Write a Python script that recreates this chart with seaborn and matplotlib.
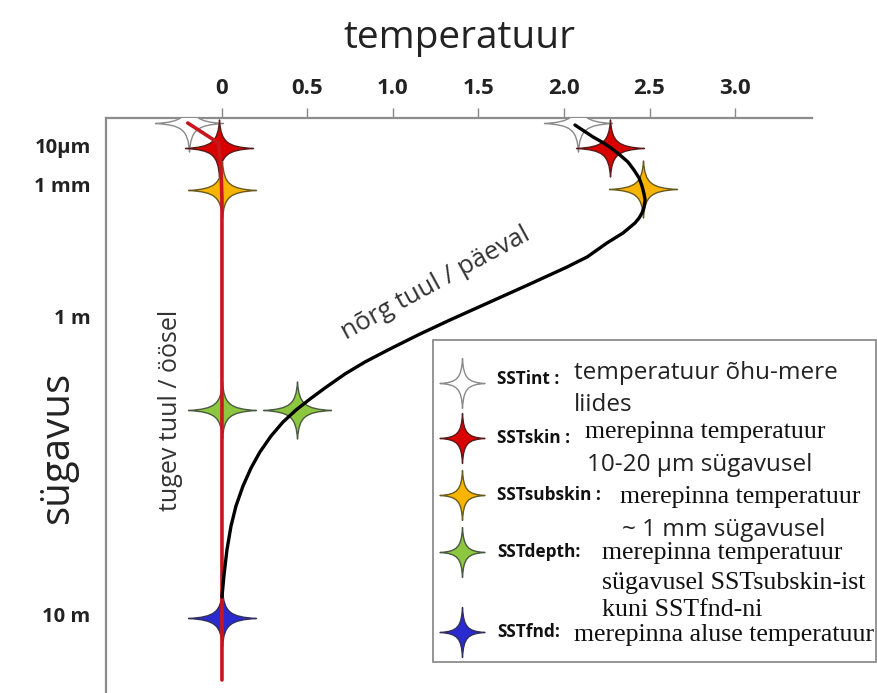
import numpy as np
import pandas as pd
import matplotlib
matplotlib.use("Agg")
import matplotlib.pyplot as plt
from matplotlib.path import Path
from matplotlib.lines import Line2D
from matplotlib.patches import Rectangle
import seaborn as sns

# ---------------- data ----------------
star_types = ["SSTint", "SSTskin", "SSTsubskin", "SSTdepth", "SSTfnd"]
star_colors = ["#ffffff", "#d90000", "#f7b500", "#8dc63f", "#2a2ad0"]
star_edges = ["#8a8a8a", "#5a1a1a", "#6a5a20", "#4a5a40", "#30305a"]

# schematic depth coordinate (0 = surface)
depth_tick_pos = [0.27, 0.66, 1.99, 4.96]
depth_tick_labels = ["10\u00b5m", "1 mm", "1 m", "10 m"]
temp_ticks = [0, 0.5, 1.0, 1.5, 2.0, 2.5, 3.0]
temp_tick_labels = ["0", "0.5", "1.0", "1.5", "2.0", "2.5", "3.0"]

# night (strong wind) stars
night_types = ["SSTint", "SSTskin", "SSTsubskin", "SSTdepth", "SSTfnd"]
night_temp = [-0.19, -0.02, 0.0, 0.0, 0.0]
night_depth = [0.05, 0.30, 0.72, 2.92, 5.00]
# day (weak wind) stars
day_types = ["SSTint", "SSTskin", "SSTsubskin", "SSTdepth"]
day_temp = [2.08, 2.27, 2.46, 0.44]
day_depth = [0.05, 0.30, 0.71, 2.92]

# night profile (red)
night_line_temp = [-0.20, -0.02, -0.005, 0.0, 0.0]
night_line_depth = [0.05, 0.25, 0.52, 0.82, 5.62]
# day profile (black)
day_line_temp = [2.064, 2.117, 2.170, 2.222, 2.275, 2.327, 2.374, 2.409, 2.439,
                 2.456, 2.468, 2.474, 2.468, 2.456, 2.439, 2.415, 2.380, 2.345,
                 2.298, 2.251, 2.193, 2.135, 2.076, 2.018, 1.801, 1.567, 1.333,
                 1.158, 0.982, 0.836, 0.719, 0.602, 0.515, 0.433, 0.357, 0.287,
                 0.222, 0.170, 0.123, 0.082, 0.053, 0.029, 0.012, 0.0]
day_line_depth = [0.07, 0.13, 0.19, 0.24, 0.30, 0.37, 0.44, 0.52, 0.60,
                  0.68, 0.76, 0.82, 0.89, 0.95, 1.00, 1.05, 1.10, 1.15,
                  1.20, 1.25, 1.32, 1.39, 1.44, 1.49, 1.66, 1.84, 2.02,
                  2.16, 2.31, 2.44, 2.56, 2.70, 2.81, 2.92, 3.04, 3.18,
                  3.34, 3.50, 3.68, 3.88, 4.08, 4.32, 4.57, 4.79]

legend_desc = [
    ["temperatuur \u00f5hu-mere", "liides"],
    ["merepinna temperatuur", "10-20 \u00b5m s\u00fcgavusel"],
    ["merepinna temperatuur", "~ 1 mm s\u00fcgavusel"],
    ["merepinna temperatuur", "s\u00fcgavusel SSTsubskin-ist", "kuni SSTfnd-ni"],
    ["merepinna aluse temperatuur"],
]
legend_keys = ["SSTint :", "SSTskin :", "SSTsubskin :", "SSTdepth:", "SSTfnd:"]

# ---------------- markers ----------------
def star_path(wx, hy, k=0.22, e=0.045):
    verts = [(wx, 0),
             (k * wx, e), (e, k * hy), (0, hy),
             (-e, k * hy), (-k * wx, e), (-wx, 0),
             (-k * wx, -e), (-e, -k * hy), (0, -hy),
             (e, -k * hy), (k * wx, -e), (wx, 0),
             (wx, 0)]
    codes = [Path.MOVETO] + [Path.CURVE4] * 12 + [Path.CLOSEPOLY]
    return Path(verts, codes)

main_star = star_path(1.0, 0.84)
leg_star = star_path(0.9, 1.0)

# ---------------- figure ----------------
W, H = 878, 693
sns.set_theme(style="white")
plt.rcParams["font.family"] = ["Open Sans", "DejaVu Sans"]
fig = plt.figure(figsize=(W / 100, H / 100), dpi=100)
ax = fig.add_axes([106 / W, 0.0, (812 - 106) / W, 1 - 118 / H])

palette = dict(zip(star_types, star_colors))
edge_map = dict(zip(star_types, star_edges))

stars = pd.DataFrame({
    "temp": night_temp + day_temp,
    "depth": night_depth + day_depth,
    "type": night_types + day_types,
})
for t in star_types:
    sub = stars[stars["type"] == t]
    sns.scatterplot(data=sub, x="temp", y="depth", ax=ax, marker=main_star,
                    s=(68 * 0.72) ** 2, color=palette[t],
                    edgecolor=edge_map[t], linewidth=1.0, zorder=3, legend=False)

night_df = pd.DataFrame({"temp": night_line_temp, "depth": night_line_depth})
day_df = pd.DataFrame({"temp": day_line_temp, "depth": day_line_depth})
sns.lineplot(data=night_df, x="temp", y="depth", sort=False, estimator=None,
             ax=ax, color="#c8161d", linewidth=2.6, zorder=4)
sns.lineplot(data=day_df, x="temp", y="depth", sort=False, estimator=None,
             ax=ax, color="#000000", linewidth=2.4, zorder=5)
for ln in ax.get_lines():
    ln.set_solid_joinstyle("round")
    ln.set_solid_capstyle("round")

ax.set_xlim(-0.678, 3.45)
ax.set_ylim(5.75, 0)

ax.xaxis.set_ticks_position("top")
ax.xaxis.set_label_position("top")
ax.set_xticks(temp_ticks)
ax.set_xticklabels(temp_tick_labels, fontsize=16, fontweight="bold", color="#222222")
ax.set_yticks(depth_tick_pos)
ax.set_yticklabels(depth_tick_labels, fontsize=14.5, fontweight="bold", color="#222222")
ax.tick_params(axis="x", direction="out", length=7, width=1, color="#888888", pad=6.5)
ax.tick_params(axis="y", direction="out", length=8, width=1, color="#888888", pad=3)

ax.set_xlabel("temperatuur", fontsize=28, color="#222222", labelpad=22)
ax.set_ylabel("s\u00fcgavus", fontsize=29, color="#222222")
ax.yaxis.set_label_coords(-0.040, 1 - (447 - 118) / (693 - 118))

for side in ["right", "bottom"]:
    ax.spines[side].set_visible(False)
for side in ["top", "left"]:
    ax.spines[side].set_color("#8c8c8c")
    ax.spines[side].set_linewidth(1.6)

# annotations
ax.text(-0.30, 2.92, "tugev tuul / \u00f6\u00f6sel", rotation=90, fontsize=18,
        color="#333333", ha="center", va="center")
ax.text(1.25, 1.65, "n\u00f5rg tuul / p\u00e4eval", rotation=28.6, fontsize=18.5,
        color="#333333", ha="center", va="center", rotation_mode="anchor")

# ---------------- legend (manual) ----------------
def fx(x):
    return x / W

def fy(y):
    return 1 - y / H

fig.add_artist(Rectangle((fx(433), fy(662)), fx(876) - fx(433), fy(340) - fy(662),
                         transform=fig.transFigure, facecolor="white",
                         edgecolor="#8c8c8c", linewidth=1.3, zorder=10))

key_y = [383, 438, 495, 552, 632]
key_x = 497
desc_pos = [
    [(574, 373, "sans"), (574, 405, "sans")],
    [(585, 432, "serif"), (587, 465, "sans")],
    [(620, 497, "serif"), (622, 530, "sans")],
    [(602, 553, "serif"), (602, 583, "serif"), (602, 610, "serif")],
    [(574, 635, "serif")],
]
for i, t in enumerate(star_types):
    fig.add_artist(Line2D([fx(462)], [fy(key_y[i])], transform=fig.transFigure,
                          marker=leg_star, markersize=50 * 0.72,
                          markerfacecolor=star_colors[i], markeredgecolor=star_edges[i],
                          markeredgewidth=1.0, linestyle="none", zorder=11))
    fig.text(fx(key_x), fy(key_y[i] - 4 if i == 0 else key_y[i]), legend_keys[i],
             fontsize=12.4, fontweight="bold", color="#111111", ha="left",
             va="center", zorder=12)
    for (x, y, kind), txt in zip(desc_pos[i], legend_desc[i]):
        if kind == "sans":
            fig.text(fx(x), fy(y), txt, fontsize=17.5, color="#222222", ha="left",
                     va="center", zorder=12,
                     family=["Open Sans", "DejaVu Sans"])
        else:
            fig.text(fx(x), fy(y), txt, fontsize=18.6, color="#111111", ha="left",
                     va="center", zorder=12,
                     family=["Liberation Serif", "DejaVu Serif"])

fig.savefig("out.png", dpi=100)
